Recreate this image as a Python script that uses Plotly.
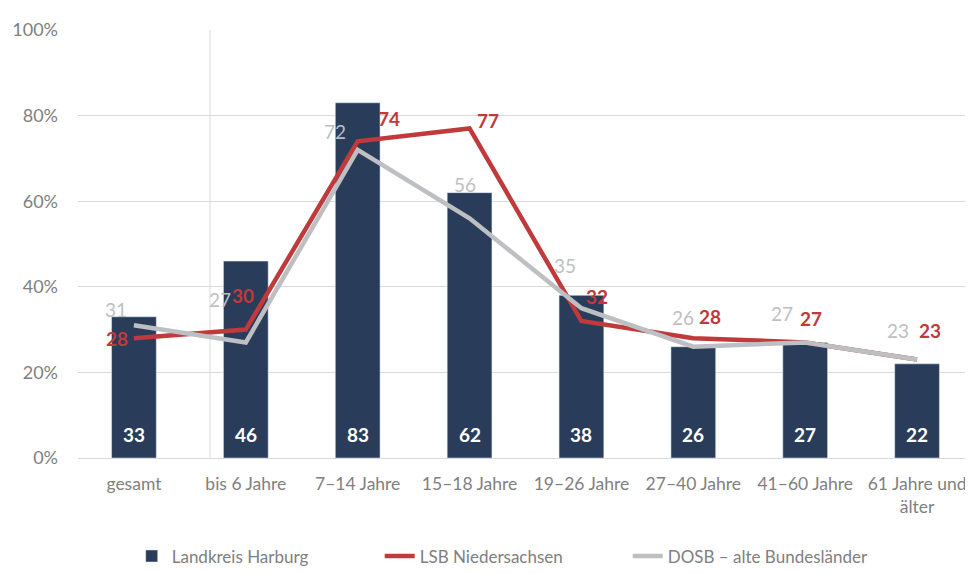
import plotly.graph_objects as go

categories = ["gesamt", "bis 6 Jahre", "7–14 Jahre", "15–18 Jahre", "19–26 Jahre",
              "27–40 Jahre", "41–60 Jahre", "61 Jahre und<br>älter"]
landkreis = [33, 46, 83, 62, 38, 26, 27, 22]
lsb = [28, 30, 74, 77, 32, 28, 27, 23]
dosb = [31, 27, 72, 56, 35, 26, 27, 23]

NAVY = "#293d5b"
RED = "#c0393b"
GREY = "#bebfc3"
TXT = "#808080"
FONT = "Lato"

# label offsets (pixels) for the line labels
lsb_dx = [-17, -3, 31, 18, 16, 17, 6, 13]
lsb_dy = [0, 34, 23, 8, 25, 22, 24, 29]
dosb_dx = [-18, -26, -23, -5, -16, -10, -23, -19]
dosb_dy = [16, 43, 18, 34, 43, 29, 29, 29]

xs = list(range(len(categories)))

fig = go.Figure()
fig.add_trace(go.Bar(x=xs, y=landkreis, name="Landkreis Harburg", marker_color=NAVY,
                     width=0.4, hoverinfo="skip"))
fig.add_trace(go.Scatter(x=xs, y=lsb, name="LSB Niedersachsen", mode="lines",
                         line=dict(color=RED, width=4.5), hoverinfo="skip"))
fig.add_trace(go.Scatter(x=xs, y=dosb, name="DOSB – alte Bundesländer", mode="lines",
                         line=dict(color=GREY, width=4.5), hoverinfo="skip"))

ann = []
for i, v in enumerate(landkreis):
    ann.append(dict(x=xs[i], y=0, text=f"<b>{v}</b>", showarrow=False, yshift=24,
                    font=dict(family=FONT, size=19, color="white")))
for i, v in enumerate(lsb):
    ann.append(dict(x=xs[i], y=v, text=f"<b>{v}</b>", showarrow=False,
                    xshift=lsb_dx[i], yshift=lsb_dy[i],
                    font=dict(family=FONT, size=19, color=RED)))
for i, v in enumerate(dosb):
    ann.append(dict(x=xs[i], y=v, text=f"{v}", showarrow=False,
                    xshift=dosb_dx[i], yshift=dosb_dy[i],
                    font=dict(family=FONT, size=19, color=GREY)))

fig.update_layout(
    width=965, height=565,
    margin=dict(l=70, r=0, t=22, b=115, autoexpand=False),
    paper_bgcolor="white", plot_bgcolor="white",
    font=dict(family=FONT, size=18, color=TXT),
    annotations=ann,
    showlegend=True,
    legend=dict(orientation="h", x=0.06, xanchor="left", y=-0.23, yanchor="middle",
                entrywidth=203, font=dict(family=FONT, size=17, color=TXT),
                traceorder="normal"),
    shapes=[dict(type="line", x0=0.68, x1=0.68, xref="x", y0=0, y1=1, yref="y domain",
                 line=dict(color="#d9d9d9", width=1), layer="below")],
    bargap=0.6,
)
fig.update_xaxes(tickmode="array", tickvals=xs, ticktext=categories, range=[-0.5, 7.5],
                 showline=True, linecolor="#d9d9d9", linewidth=1, showgrid=False,
                 ticks="", ticklabelstandoff=10, ticklabeloverflow="allow",
                 tickfont=dict(family=FONT, size=17.5, color=TXT))
fig.update_yaxes(range=[0, 100], dtick=20, ticksuffix="%", showgrid=True,
                 gridcolor="#d9d9d9", gridwidth=1, zeroline=False, ticks="",
                 ticklabelstandoff=19, tickfont=dict(family=FONT, size=18, color=TXT))

fig.write_html("out.html")
